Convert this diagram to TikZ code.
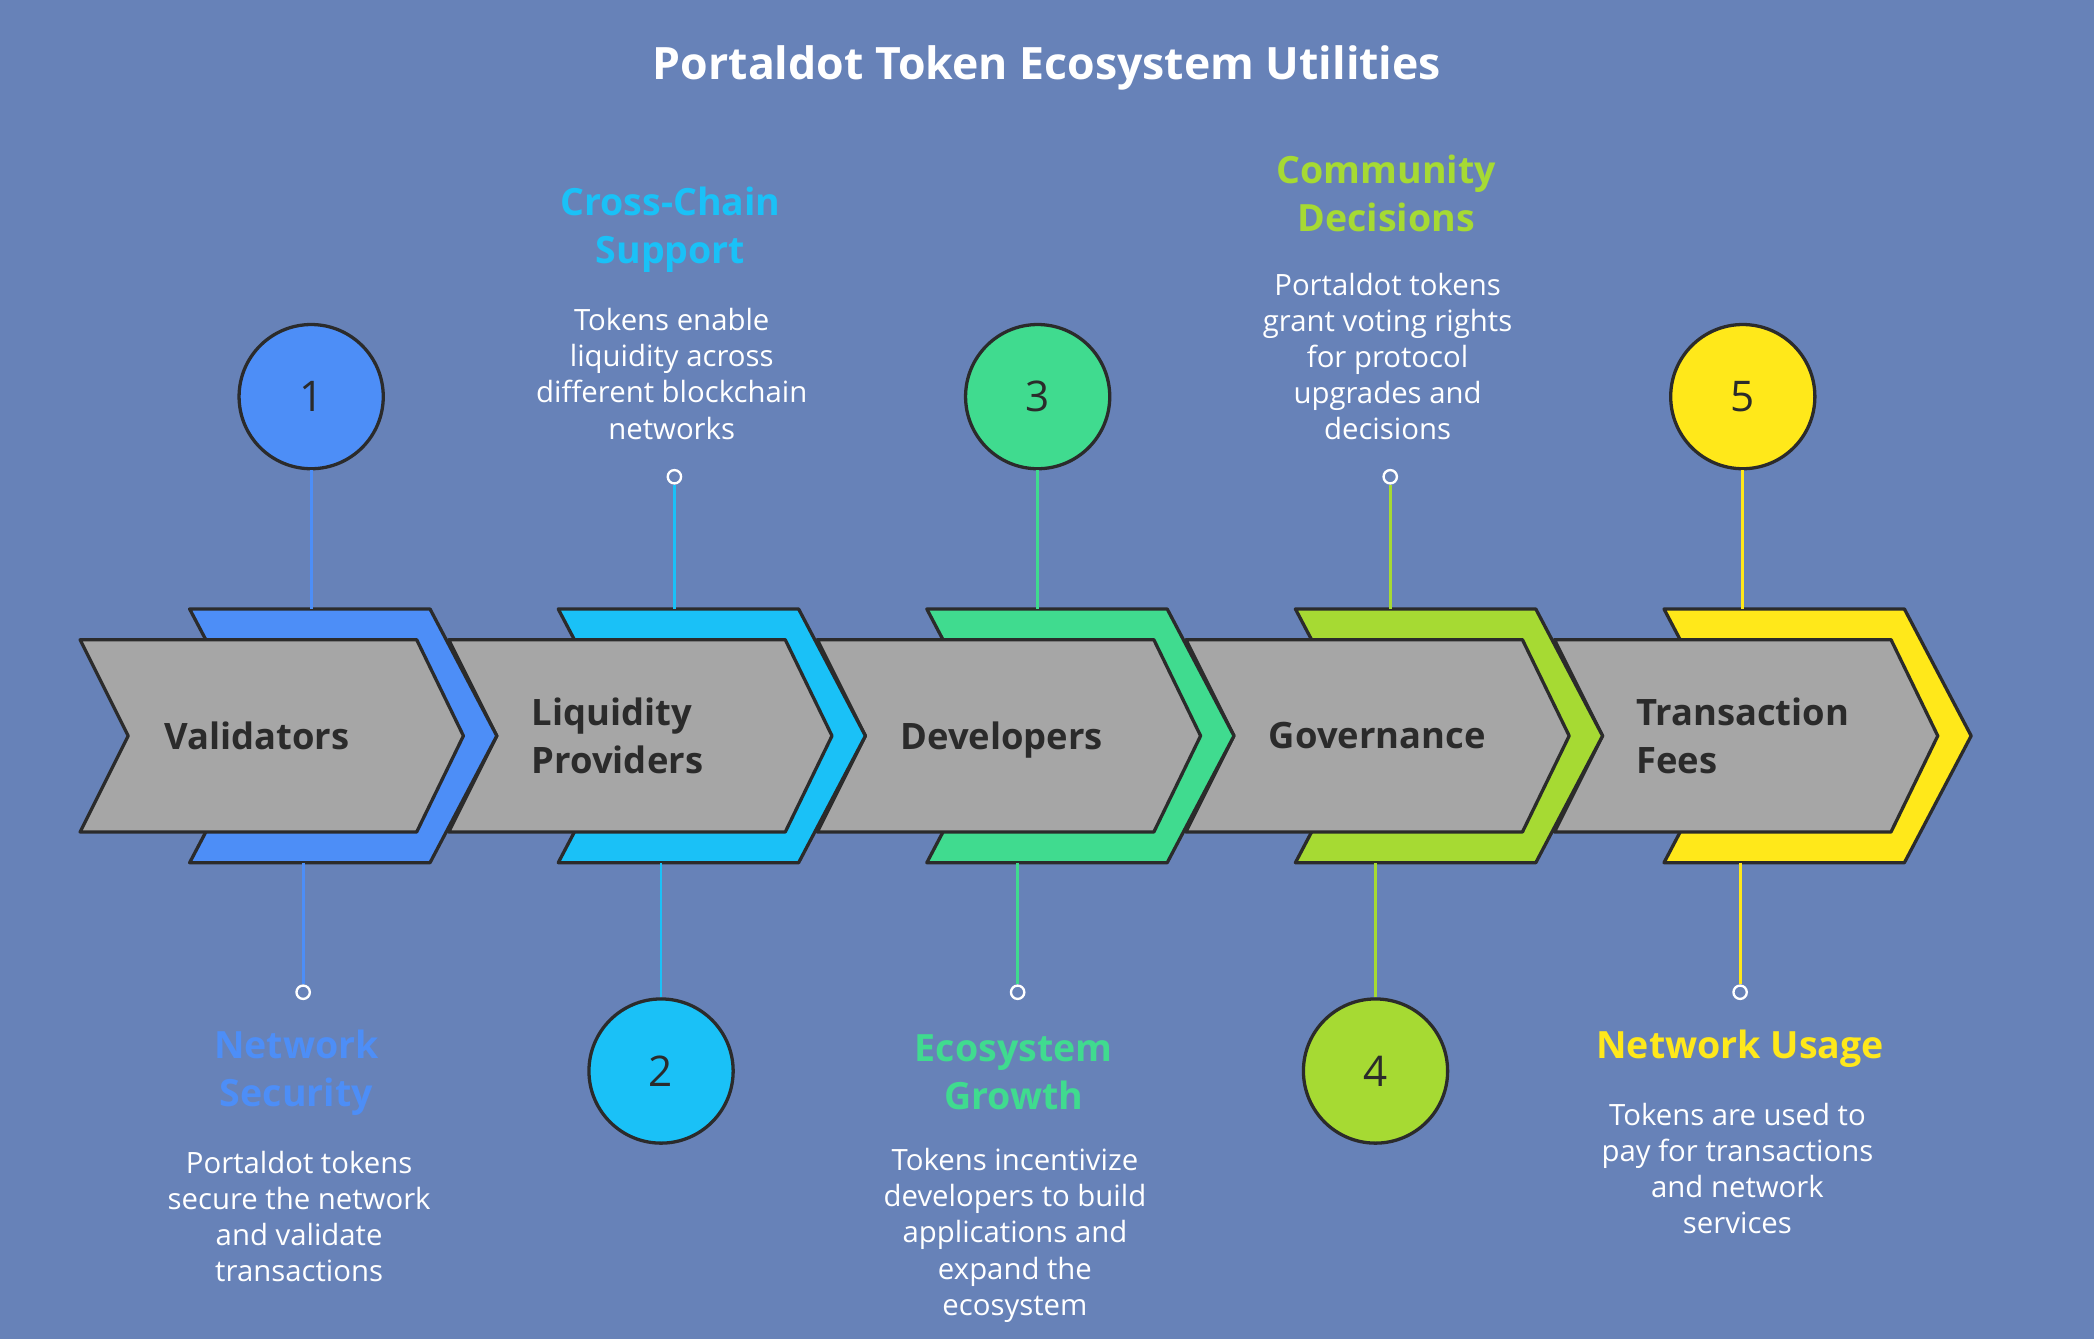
\documentclass[tikz,border=0pt]{standalone}
\usepackage{fontspec}
\setmainfont{Open Sans}
\begin{document}
\definecolor{bg}{HTML}{6782B8}
\definecolor{cA}{HTML}{4D8EF7}
\definecolor{cB}{HTML}{1AC1F7}
\definecolor{cC}{HTML}{40DB8F}
\definecolor{cD}{HTML}{A6DA33}
\definecolor{cE}{HTML}{FFE81A}
\definecolor{gr}{HTML}{A6A6A6}
\definecolor{dk}{HTML}{2B2B2B}
\begin{tikzpicture}[x=0.02cm,y=-0.02cm,
  edge/.style={draw=dk,line width=1.4pt,line join=round},
  num/.style={circle,draw=dk,line width=1.4pt,minimum size=2.16cm,inner sep=0pt,font=\fontsize{18}{20}\selectfont,text=dk},
  lab/.style={anchor=west,align=left,font=\bfseries\fontsize{15.5}{20.5}\selectfont,text=dk},
  head/.style={align=center,font=\bfseries\fontsize{16}{20.5}\selectfont},
  desc/.style={align=center,text=white,font=\fontsize{12.5}{15.4}\selectfont},
  dot/.style={circle,draw=white,line width=1pt,minimum size=0.2cm,inner sep=0pt},
  conn/.style={line width=1.2pt}]
\fill[bg] (0,0) rectangle (1568,1003);
\node[text=white,font=\bfseries\fontsize{19}{22}\selectfont] (title) at (784,51) {Portaldot Token Ecosystem Utilities};
% chevrons from last to first
\foreach \i/\c in {4/cE,3/cD,2/cC,1/cB,0/cA}{
  \pgfmathsetmacro\o{276*\i}
  \begin{scope}[xshift=\o*0.02cm]
  \filldraw[edge,fill=\c] (142,456)--(322,456)--(372,551)--(322,646)--(142,646)--(192,551)--cycle;
  \filldraw[edge,fill=gr] (60,479)--(312,479)--(347,551)--(312,623)--(60,623)--(96,551)--cycle;
  \end{scope}
}
\node[lab] (l1) at (117,551) {Validators};
\node[lab] (l2) at (392,551) {Liquidity\\Providers};
\node[lab] (l3) at (668,554) {Developers};
\node[lab] (l4) at (944,551) {Governance};
\node[lab] (l5) at (1219,551) {Transaction\\Fees};
% circles
\node[num,fill=cA] (n1) at (233,297) {1};
\node[num,fill=cB] (n2) at (495,802) {2};
\node[num,fill=cC] (n3) at (777,297) {3};
\node[num,fill=cD] (n4) at (1030,802) {4};
\node[num,fill=cE] (n5) at (1305,297) {5};
\coordinate (a1) at (233,456); \coordinate (a2) at (495,646);
\coordinate (a3) at (777,456); \coordinate (a4) at (1030,646);
\coordinate (a5) at (1305,456);
\draw[conn,cA] (n1)--(a1);
\draw[conn,cB] (n2)--(a2);
\draw[conn,cC] (n3)--(a3);
\draw[conn,cD] (n4)--(a4);
\draw[conn,cE] (n5)--(a5);
% dots
\node[dot] (d1) at (227,743) {};
\node[dot] (d2) at (505,357) {};
\node[dot] (d3) at (762,743) {};
\node[dot] (d4) at (1041,357) {};
\node[dot] (d5) at (1303,743) {};
\coordinate (e1) at (227,646); \coordinate (e2) at (505,456);
\coordinate (e3) at (762,646); \coordinate (e4) at (1041,456);
\coordinate (e5) at (1303,646);
\draw[conn,cA] (e1)--(d1);
\draw[conn,cB] (e2)--(d2);
\draw[conn,cC] (e3)--(d3);
\draw[conn,cD] (e4)--(d4);
\draw[conn,cE] (e5)--(d5);
% texts
\node[head,text=cA] (h1) at (222,803) {Network\\Security};
\node[desc] (s1) at (224,911) {Portaldot tokens\\secure the network\\and validate\\transactions};
\node[head,text=cB] (h2) at (502,172) {Cross-Chain\\Support};
\node[desc] (s2) at (503,280) {Tokens enable\\liquidity across\\different blockchain\\networks};
\node[head,text=cC] (h3) at (759,803) {Ecosystem\\Growth};
\node[desc] (s3) at (760,925) {Tokens incentivize\\developers to build\\applications and\\expand the\\ecosystem};
\node[head,text=cD] (h4) at (1038,145) {Community\\Decisions};
\node[desc] (s4) at (1039,267) {Portaldot tokens\\grant voting rights\\for protocol\\upgrades and\\decisions};
\node[head,text=cE] (h5) at (1303,785) {Network Usage};
\node[desc] (s5) at (1301,875) {Tokens are used to\\pay for transactions\\and network\\services};
\end{tikzpicture}
\end{document}
